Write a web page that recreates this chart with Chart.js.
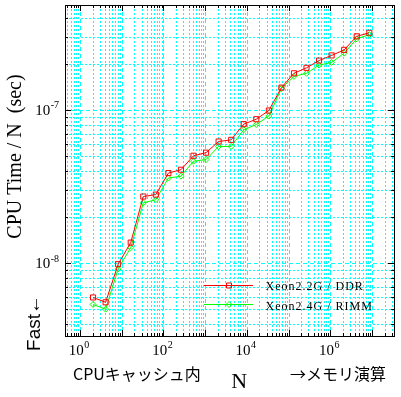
<!DOCTYPE html>
<html><head><meta charset="utf-8">
<script src="https://cdn.jsdelivr.net/npm/chart.js@4"></script>
<style>html,body{margin:0;padding:0;background:#fff;} #wrap{width:401px;height:397px;}</style>
</head><body><div id="wrap"><canvas id="c" width="401" height="397"></canvas></div>
<script>
// ---- data ----
const nValues = [2,4,8,16,32,64,128,256,512,1024,2048,4096,8192,16384,32768,65536,131072,262144,524288,1048576,2097152,4194304,8388608];
const ddrTimes = [6.0e-9,5.58e-9,9.9e-9,1.37e-8,2.74e-8,2.82e-8,3.9e-8,4.1e-8,5.06e-8,5.3e-8,6.27e-8,6.43e-8,8.14e-8,8.77e-8,1.0e-7,1.41e-7,1.75e-7,1.9e-7,2.12e-7,2.29e-7,2.49e-7,3.05e-7,3.22e-7];
const rimmTimes = [5.4e-9,5.03e-9,9.23e-9,1.27e-8,2.49e-8,2.61e-8,3.62e-8,3.72e-8,4.66e-8,4.78e-8,5.82e-8,5.82e-8,7.48e-8,8.1e-8,9.2e-8,1.39e-7,1.67e-7,1.75e-7,1.98e-7,2.06e-7,2.37e-7,2.94e-7,3.13e-7];
const seriesLabels = ['Xeon2.2G / DDR','Xeon2.4G / RIMM'];
const xLabelValues = [1,100,1e4,1e6];
const xLabelExps = ['0','2','4','6'];
const yLabelValues = [1e-8,1e-7];
const yLabelExps = ['-8','-7'];
const xRange = [0.425, 3.28e7];
const yRange = [3.36e-9, 4.89e-7];
const yTitle = 'CPU Time / N  (sec)';
const fastLabel = 'Fast\u2190';
const xTitleLeft = 'CPU\u30ad\u30e3\u30c3\u30b7\u30e5\u5185';
const xTitleMid = 'N';
const xTitleRight = '\u2192\u30e1\u30e2\u30ea\u6f14\u7b97';

const SERIF = "'Liberation Serif','Times New Roman',serif";
const SANS = "'Liberation Sans',Arial,sans-serif";
const CJK = "'Noto Sans CJK JP','Noto Sans CJK SC',sans-serif";

function logTicks(scale){
  const min = scale.min, max = scale.max, out = [];
  for (let e = Math.floor(Math.log10(min)); e <= Math.ceil(Math.log10(max)); e++){
    for (let m = 1; m <= 9; m++){
      const v = m * Math.pow(10, e);
      if (v > min*1.0001 && v < max*0.9999) out.push({value: v, major: m === 1});
    }
  }
  scale.ticks = out;
}

const decoPlugin = {
  id: 'deco',
  afterDraw(chart){
    const ctx = chart.ctx;
    const {left, right, top, bottom} = chart.chartArea;
    const xs = chart.scales.x, ys = chart.scales.y;
    ctx.save();
    ctx.strokeStyle = '#000'; ctx.lineWidth = 1; ctx.setLineDash([]);
    ctx.beginPath();
    xs.ticks.forEach(t => {
      const p = Math.round(xs.getPixelForValue(t.value) - 0.5) + 0.5;
      const len = t.major ? 6 : 3;
      ctx.moveTo(p, bottom); ctx.lineTo(p, bottom - len);
      ctx.moveTo(p, top); ctx.lineTo(p, top + len);
    });
    ys.ticks.forEach(t => {
      const p = Math.round(ys.getPixelForValue(t.value) - 0.5) + 0.5;
      const len = t.major ? 6 : 3;
      ctx.moveTo(left, p); ctx.lineTo(left + len, p);
      ctx.moveTo(right, p); ctx.lineTo(right - len, p);
    });
    ctx.stroke();
    ctx.strokeRect(left + 0.5, top + 0.5, right - left, bottom - top);

    // tick labels
    ctx.fillStyle = '#000';
    ctx.textBaseline = 'alphabetic'; ctx.textAlign = 'left';
    xLabelValues.forEach((v, i) => {
      const px = xs.getPixelForValue(v);
      ctx.font = '15px ' + SERIF; const w1 = ctx.measureText('10').width;
      ctx.font = '10px ' + SERIF; const w2 = ctx.measureText(xLabelExps[i]).width;
      const start = px - 1.5 - (w1 + w2 + 0.5) / 2;
      ctx.font = '15px ' + SERIF; ctx.fillText('10', start, 355);
      ctx.font = '10px ' + SERIF; ctx.fillText(xLabelExps[i], start + w1 + 0.5, 347.5);
    });
    yLabelValues.forEach((v, i) => {
      const py = ys.getPixelForValue(v);
      ctx.font = '15px ' + SERIF; const w1 = ctx.measureText('10').width;
      ctx.font = '10px ' + SERIF; const w2 = ctx.measureText(yLabelExps[i]).width;
      const start = 59 - (w1 + w2 + 0.5);
      ctx.font = '15px ' + SERIF; ctx.fillText('10', start, py + 4.5);
      ctx.font = '10px ' + SERIF; ctx.fillText(yLabelExps[i], start + w1 + 0.5, py - 2);
    });

    // axis titles
    ctx.save();
    ctx.translate(21, 156.5); ctx.rotate(-Math.PI/2);
    ctx.textAlign = 'center'; ctx.font = '20px ' + SERIF;
    ctx.fillText(yTitle, 0, 0);
    ctx.restore();
    ctx.save();
    ctx.translate(40, 323); ctx.rotate(-Math.PI/2);
    ctx.textAlign = 'center'; ctx.font = '19px ' + SANS;
    ctx.fillText(fastLabel, 0, 0);
    ctx.restore();

    ctx.textAlign = 'left'; ctx.font = '16px ' + CJK;
    ctx.fillText(xTitleLeft, 73, 380);
    ctx.fillText(xTitleRight, 290, 380);
    ctx.textAlign = 'center'; ctx.font = '22px ' + SERIF;
    ctx.fillText(xTitleMid, 239.2, 387.7);

    // legend
    const rows = [285.5, 304.5], baselines = [290, 309.5];
    chart.data.datasets.forEach((ds, i) => {
      const y = rows[i];
      ctx.strokeStyle = ds.borderColor; ctx.lineWidth = 1;
      ctx.beginPath(); ctx.moveTo(204, y); ctx.lineTo(253, y); ctx.stroke();
      ctx.beginPath();
      if (ds.pointStyle === 'rect') {
        ctx.rect(229 - 2.5, y - 2.5, 5, 5);
      } else {
        ctx.moveTo(229, y - 3); ctx.lineTo(232, y); ctx.lineTo(229, y + 3); ctx.lineTo(226, y); ctx.closePath();
      }
      ctx.stroke();
      ctx.fillStyle = '#000'; ctx.textAlign = 'left'; ctx.font = '12px ' + SERIF;
      try { ctx.letterSpacing = '1px'; } catch(e) {}
      ctx.fillText(ds.label, 265.5, baselines[i]);
      try { ctx.letterSpacing = '0px'; } catch(e) {}
    });
    ctx.restore();
  }
};

const gridOpts = {
  color: '#00ffff', lineWidth: 1, drawTicks: false
};
const borderOpts = {
  display: false,
  dash: (c) => (c.tick && c.tick.major) ? [4,3] : [2,2]
};

new Chart(document.getElementById('c'), {
  type: 'line',
  data: {
    datasets: [
      {
        label: seriesLabels[0],
        data: nValues.map((n, i) => ({x: n, y: ddrTimes[i]})),
        borderColor: '#ff0000', borderWidth: 1,
        pointStyle: 'rect', pointRadius: 3.6, pointBorderWidth: 1,
        pointBorderColor: '#ff0000', pointBackgroundColor: 'rgba(0,0,0,0)',
        tension: 0, fill: false
      },
      {
        label: seriesLabels[1],
        data: nValues.map((n, i) => ({x: n, y: rimmTimes[i]})),
        borderColor: '#00ff00', borderWidth: 1,
        pointStyle: 'rectRot', pointRadius: 3, pointBorderWidth: 1,
        pointBorderColor: '#00ff00', pointBackgroundColor: 'rgba(0,0,0,0)',
        tension: 0, fill: false
      }
    ]
  },
  options: {
    responsive: false, animation: false, events: [],
    devicePixelRatio: 1,
    layout: { padding: { left: 65, top: 5, right: 7, bottom: 61 } },
    plugins: { legend: { display: false }, tooltip: { enabled: false } },
    scales: {
      x: {
        type: 'logarithmic', min: xRange[0], max: xRange[1],
        afterBuildTicks: logTicks,
        afterFit: (s) => { s.height = 0; },
        ticks: { display: false },
        grid: gridOpts, border: borderOpts
      },
      y: {
        type: 'logarithmic', min: yRange[0], max: yRange[1],
        afterBuildTicks: logTicks,
        afterFit: (s) => { s.width = 0; },
        ticks: { display: false },
        grid: gridOpts, border: borderOpts
      }
    }
  },
  plugins: [decoPlugin]
});
</script>
</body></html>
